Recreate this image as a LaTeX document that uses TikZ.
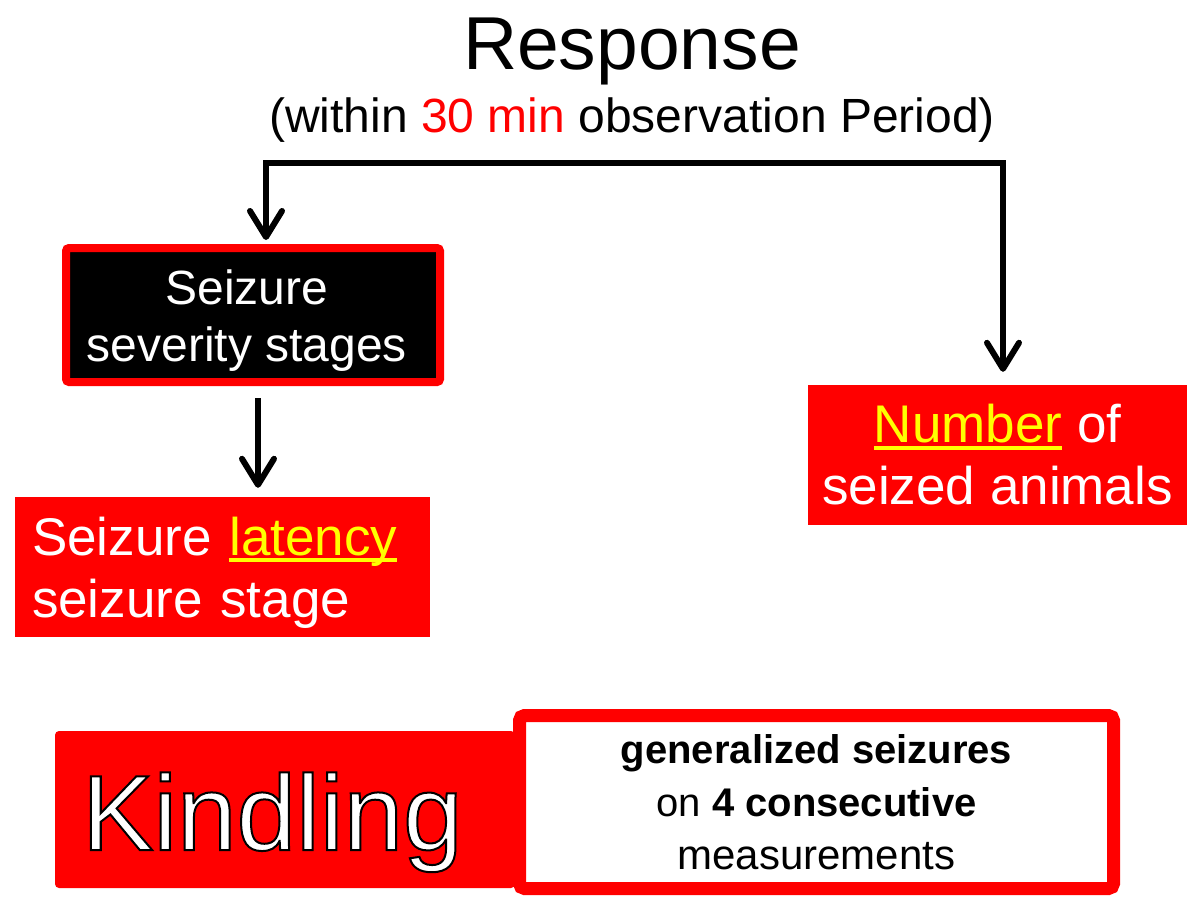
\documentclass[tikz,border=0pt]{standalone}
\usepackage{fontspec}
\setmainfont{Liberation Sans}
\usetikzlibrary{arrows.meta}

\definecolor{alarm}{RGB}{255,0,0}
\definecolor{signal}{RGB}{255,255,0}
% yellow word with a thin underline that runs through the descenders
\newcommand{\hiword}[1]{{\color{signal}\setbox0\hbox{#1}\rlap{\rule[-0.14em]{\wd0}{0.075em}}\box0}}
% white letters with a black outline (fill, then stroke)
\newcommand{\outlined}[1]{{\color{white}\special{pdf:literal direct 0 0 0 RG 2 w 2 Tr}#1\special{pdf:literal direct 0 Tr}}}

\begin{document}
\begin{tikzpicture}
  [x=1pt, y=-1pt,
   >={Straight Barb[length=26pt,width=32pt,round]},
   flow/.style={line width=6pt},
   sevbox/.style={draw=alarm, line width=8pt, fill=black, text=white, rounded corners=3pt,
                  minimum width=374pt, minimum height=134pt, inner sep=0pt, align=center,
                  font=\fontsize{48}{57}\selectfont},
   redbox/.style={fill=alarm, text=white, minimum height=140pt, inner sep=0pt,
                  font=\fontsize{53}{62}\selectfont},
   kindbox/.style={fill=alarm, text=white, rounded corners=4pt, minimum width=460pt,
                   minimum height=157pt, text width=406pt, align=left, inner xsep=27pt,
                   inner ysep=0pt, text height=100pt, text depth=19pt,
                   font=\fontsize{107}{120}\selectfont},
   critbox/.style={draw=alarm, line width=13pt, fill=white, rounded corners=5pt,
                   minimum width=594pt, minimum height=173pt, inner sep=0pt, align=center,
                   font=\fontsize{40}{53}\selectfont}]
  \useasboundingbox (0,0) rectangle (1187,898);

  \node (resp) [anchor=base, font=\fontsize{75}{90}\selectfont] at (632,69) {Response};
  \node (period) [anchor=base, font=\fontsize{48}{58}\selectfont] at (632,132)
    {(within \textcolor{alarm}{30 min} observation Period)};

  \node (sev) [sevbox] at (253,315) {\rule{0pt}{45pt}Seizure\hspace*{12pt}\\severity stages\hspace*{12pt}};
  \node (lat) [redbox, align=left, text width=381pt, inner xsep=17pt] at (222.5,567)
    {\rule{0pt}{49pt}Seizure \hiword{latency}\\seizure stage};
  \node (num) [redbox, align=center, minimum width=379pt] at (997.5,455)
    {\hiword{Number} of\\seized animals};

  \node (kind) [kindbox] at (285,809.5) {\outlined{Kindling}};
  \node (crit) [critbox] at (816.5,802)
    {\textbf{generalized seizures}\\on \textbf{4 consecutive}\\{\fontsize{42}{53}\selectfont measurements}};

  \coordinate (barL) at (266,163);
  \coordinate (barR) at (1003,163);
  \draw[flow, <->, shorten <=4pt, shorten >=13pt]
    (barL |- sev.north) -- (barL) -- (barR) -- (barR |- num.north);
  \draw[flow, ->, shorten <=12pt, shorten >=9pt]
    ([xshift=5pt]sev.south) -- ([xshift=5pt]sev.south |- lat.north);
\end{tikzpicture}
\end{document}
